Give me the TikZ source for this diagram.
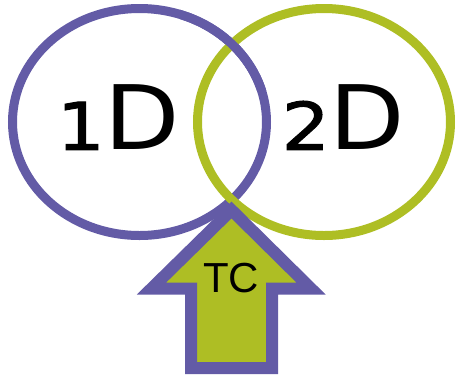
\documentclass[tikz,border=0pt]{standalone}
\usepackage{fontspec}
\setsansfont{Liberation Sans}
\newfontfamily\dimfont[FakeStretch=1.1]{DejaVu Sans}
\newfontfamily\figfont[FakeStretch=1.15,FakeBold=1.5]{DejaVu Sans}
\newcommand{\lowfig}[1]{{\figfont\fontsize{66}{66}\selectfont #1}}
\definecolor{VennPurple}{RGB}{99,91,166}
\definecolor{VennGreen}{RGB}{174,190,36}
\tikzset{
  ring/.style={line width=9pt},
  dimlabel/.style={font=\dimfont\fontsize{89}{89}\selectfont,inner sep=0pt},
}

\begin{document}
\begin{tikzpicture}[x=1pt,y=-1pt]
  \useasboundingbox (0,0) rectangle (456,376);
  % the two rings
  \draw[ring,VennPurple] (139.5,122) ellipse [x radius=127pt,y radius=113.5pt];
  \draw[ring,VennGreen] (324,122) ellipse [x radius=126.5pt,y radius=113.5pt];
  \begin{scope}
    \clip (180,0) rectangle (290,90);
    \draw[ring,VennPurple] (139.5,122) ellipse [x radius=127pt,y radius=113.5pt];
  \end{scope}
  % arrow
  \draw[line width=12pt,line join=miter,VennPurple,fill=VennGreen]
    (231.5,210) -- (311,288.5) -- (272,288.5) -- (272,368)
    -- (191,368) -- (191,288.5) -- (151.5,288.5) -- cycle;
  \node[dimlabel] (one) at (118.5,117.5) {\lowfig{1}D};
  \node[dimlabel] (two) at (343.5,117.5) {\lowfig{2}D};
  \node[font=\sffamily\fontsize{42}{42}\selectfont,inner sep=0pt] (tc) at (231,278) {TC};
\end{tikzpicture}
\end{document}
